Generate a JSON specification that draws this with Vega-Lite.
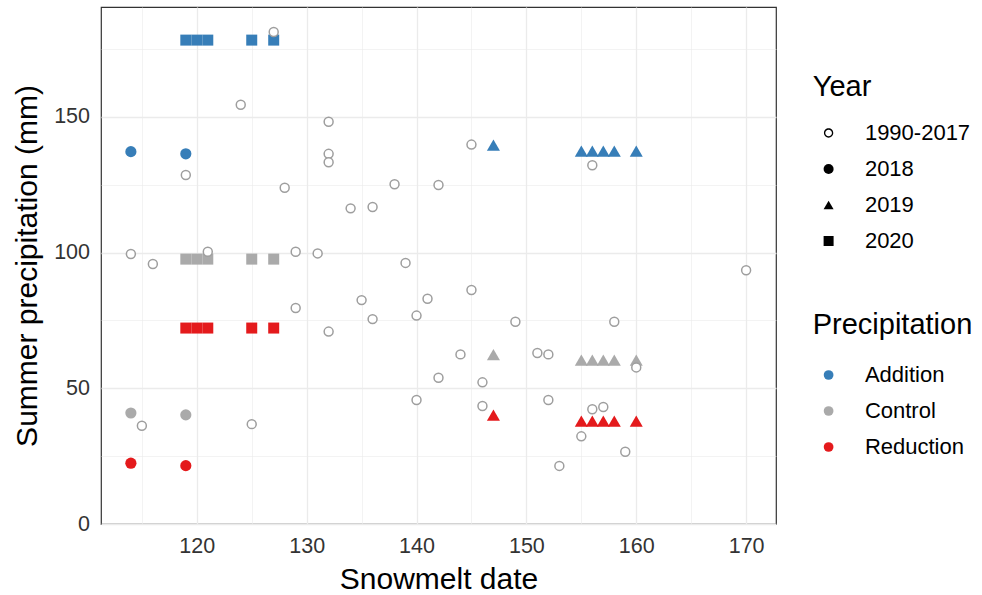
{
  "$schema": "https://vega.github.io/schema/vega-lite/v6.json",
  "width": 675,
  "height": 517,
  "autosize": {"type": "none"},
  "padding": {"left": 101, "top": 7, "right": 206, "bottom": 71},
  "background": "white",
  "config": {
    "font": "Liberation Sans",
    "view": {"stroke": "#333333", "strokeWidth": 1.2},
    "axis": {
      "domain": false,
      "ticks": false,
      "tickSize": 0,
      "gridColor": "#EBEBEB",
      "labelFont": "Liberation Sans",
      "labelFontSize": 21.5,
      "labelColor": "#333333",
      "labelPadding": 11.5,
      "labelOverlap": false,
      "labelFlush": false,
      "titleFont": "Liberation Sans",
      "titleFontSize": 30,
      "titleFontWeight": "normal",
      "titleColor": "#000000"
    },
    "legend": {
      "orient": "none",
      "titleFont": "Liberation Sans",
      "titleFontSize": 29,
      "titleFontWeight": "normal",
      "titleColor": "#000000",
      "labelFont": "Liberation Sans",
      "labelFontSize": 22,
      "labelColor": "#000000",
      "padding": 0,
      "rowPadding": 14,
      "symbolSize": 100,
      "symbolOffset": 4.9,
      "labelOffset": 25.3
    }
  },
  "data": {
    "values": [
      {"date": 114, "precip": 99.5, "year": "1990-2017"},
      {"date": 115, "precip": 36.2, "year": "1990-2017"},
      {"date": 116, "precip": 95.8, "year": "1990-2017"},
      {"date": 119, "precip": 128.6, "year": "1990-2017"},
      {"date": 121, "precip": 100.3, "year": "1990-2017"},
      {"date": 124, "precip": 154.5, "year": "1990-2017"},
      {"date": 125, "precip": 36.8, "year": "1990-2017"},
      {"date": 127, "precip": 181.3, "year": "1990-2017"},
      {"date": 128, "precip": 123.9, "year": "1990-2017"},
      {"date": 129, "precip": 100.3, "year": "1990-2017"},
      {"date": 129, "precip": 79.6, "year": "1990-2017"},
      {"date": 131, "precip": 99.7, "year": "1990-2017"},
      {"date": 132, "precip": 148.2, "year": "1990-2017"},
      {"date": 132, "precip": 136.4, "year": "1990-2017"},
      {"date": 132, "precip": 133.3, "year": "1990-2017"},
      {"date": 132, "precip": 70.9, "year": "1990-2017"},
      {"date": 134, "precip": 116.3, "year": "1990-2017"},
      {"date": 135, "precip": 82.5, "year": "1990-2017"},
      {"date": 136, "precip": 116.8, "year": "1990-2017"},
      {"date": 136, "precip": 75.5, "year": "1990-2017"},
      {"date": 138, "precip": 125.2, "year": "1990-2017"},
      {"date": 139, "precip": 96.2, "year": "1990-2017"},
      {"date": 140, "precip": 76.8, "year": "1990-2017"},
      {"date": 140, "precip": 45.7, "year": "1990-2017"},
      {"date": 141, "precip": 83.0, "year": "1990-2017"},
      {"date": 142, "precip": 124.9, "year": "1990-2017"},
      {"date": 142, "precip": 53.9, "year": "1990-2017"},
      {"date": 144, "precip": 62.5, "year": "1990-2017"},
      {"date": 145, "precip": 139.8, "year": "1990-2017"},
      {"date": 145, "precip": 86.2, "year": "1990-2017"},
      {"date": 146, "precip": 52.2, "year": "1990-2017"},
      {"date": 146, "precip": 43.5, "year": "1990-2017"},
      {"date": 149, "precip": 74.5, "year": "1990-2017"},
      {"date": 151, "precip": 63.0, "year": "1990-2017"},
      {"date": 152, "precip": 62.5, "year": "1990-2017"},
      {"date": 152, "precip": 45.7, "year": "1990-2017"},
      {"date": 153, "precip": 21.4, "year": "1990-2017"},
      {"date": 155, "precip": 32.3, "year": "1990-2017"},
      {"date": 156, "precip": 132.2, "year": "1990-2017"},
      {"date": 156, "precip": 42.3, "year": "1990-2017"},
      {"date": 157, "precip": 43.1, "year": "1990-2017"},
      {"date": 158, "precip": 74.5, "year": "1990-2017"},
      {"date": 159, "precip": 26.6, "year": "1990-2017"},
      {"date": 160, "precip": 57.7, "year": "1990-2017"},
      {"date": 170, "precip": 93.5, "year": "1990-2017"},
      {"date": 114, "precip": 137.2, "year": "2018", "treatment": "Addition"},
      {"date": 114, "precip": 40.9, "year": "2018", "treatment": "Control"},
      {"date": 114, "precip": 22.4, "year": "2018", "treatment": "Reduction"},
      {"date": 119, "precip": 136.4, "year": "2018", "treatment": "Addition"},
      {"date": 119, "precip": 40.2, "year": "2018", "treatment": "Control"},
      {"date": 119, "precip": 21.5, "year": "2018", "treatment": "Reduction"},
      {"date": 147, "precip": 139.6, "year": "2019", "treatment": "Addition"},
      {"date": 147, "precip": 62.4, "year": "2019", "treatment": "Control"},
      {"date": 147, "precip": 40.1, "year": "2019", "treatment": "Reduction"},
      {"date": 155, "precip": 137.4, "year": "2019", "treatment": "Addition"},
      {"date": 155, "precip": 60.4, "year": "2019", "treatment": "Control"},
      {"date": 155, "precip": 37.9, "year": "2019", "treatment": "Reduction"},
      {"date": 156, "precip": 137.4, "year": "2019", "treatment": "Addition"},
      {"date": 156, "precip": 60.4, "year": "2019", "treatment": "Control"},
      {"date": 156, "precip": 37.9, "year": "2019", "treatment": "Reduction"},
      {"date": 157, "precip": 137.4, "year": "2019", "treatment": "Addition"},
      {"date": 157, "precip": 60.4, "year": "2019", "treatment": "Control"},
      {"date": 157, "precip": 37.9, "year": "2019", "treatment": "Reduction"},
      {"date": 158, "precip": 137.4, "year": "2019", "treatment": "Addition"},
      {"date": 158, "precip": 60.4, "year": "2019", "treatment": "Control"},
      {"date": 158, "precip": 37.9, "year": "2019", "treatment": "Reduction"},
      {"date": 160, "precip": 137.4, "year": "2019", "treatment": "Addition"},
      {"date": 160, "precip": 60.4, "year": "2019", "treatment": "Control"},
      {"date": 160, "precip": 37.9, "year": "2019", "treatment": "Reduction"},
      {"date": 119, "precip": 178.3, "year": "2020", "treatment": "Addition"},
      {"date": 119, "precip": 97.6, "year": "2020", "treatment": "Control"},
      {"date": 119, "precip": 72.2, "year": "2020", "treatment": "Reduction"},
      {"date": 120, "precip": 178.3, "year": "2020", "treatment": "Addition"},
      {"date": 120, "precip": 97.6, "year": "2020", "treatment": "Control"},
      {"date": 120, "precip": 72.2, "year": "2020", "treatment": "Reduction"},
      {"date": 121, "precip": 178.3, "year": "2020", "treatment": "Addition"},
      {"date": 121, "precip": 97.6, "year": "2020", "treatment": "Control"},
      {"date": 121, "precip": 72.2, "year": "2020", "treatment": "Reduction"},
      {"date": 125, "precip": 178.3, "year": "2020", "treatment": "Addition"},
      {"date": 125, "precip": 97.6, "year": "2020", "treatment": "Control"},
      {"date": 125, "precip": 72.2, "year": "2020", "treatment": "Reduction"},
      {"date": 127, "precip": 178.3, "year": "2020", "treatment": "Addition"},
      {"date": 127, "precip": 97.6, "year": "2020", "treatment": "Control"},
      {"date": 127, "precip": 72.2, "year": "2020", "treatment": "Reduction"}
    ]
  },
  "encoding": {
    "x": {
      "field": "date",
      "type": "quantitative",
      "title": "Snowmelt date",
      "scale": {"domain": [111.28, 172.72], "nice": false, "zero": false},
      "axis": {
        "values": [115, 120, 125, 130, 135, 140, 145, 150, 155, 160, 165, 170],
        "labelExpr": "datum.value % 10 === 0 ? datum.label : ''",
        "gridWidth": {"condition": {"test": "datum.value % 10 === 0", "value": 1.3}, "value": 0.6},
        "titlePadding": 7
      }
    },
    "y": {
      "field": "precip",
      "type": "quantitative",
      "title": "Summer precipitation (mm)",
      "scale": {"domain": [0, 190.5], "nice": false, "zero": false},
      "axis": {
        "values": [0, 25, 50, 75, 100, 125, 150, 175],
        "labelExpr": "datum.value % 50 === 0 ? datum.label : ''",
        "gridWidth": {"condition": {"test": "datum.value % 50 === 0", "value": 1.3}, "value": 0.6},
        "titlePadding": 11
      }
    }
  },
  "layer": [
    {
      "transform": [{"filter": "datum.year === '2018'"}],
      "mark": {"type": "point", "filled": true, "opacity": 1, "strokeWidth": 0, "size": 125},
      "encoding": {
        "color": {
          "field": "treatment",
          "type": "nominal",
          "title": "Precipitation",
          "scale": {"domain": ["Addition", "Control", "Reduction"], "range": ["#377EB8", "#AAAAAA", "#E41A1C"]},
          "legend": {"legendX": 711.7, "legendY": 304, "titlePadding": 24, "symbolType": "circle", "symbolSize": 95, "symbolOpacity": 1, "symbolStrokeWidth": 0}
        },
        "shape": {
          "field": "year",
          "type": "nominal",
          "title": "Year",
          "scale": {"domain": ["1990-2017", "2018", "2019", "2020"], "range": ["M0,-0.93A0.93,0.93,0,1,1,0,0.93A0.93,0.93,0,1,1,0,-0.93ZM0,-0.67A0.67,0.67,0,1,0,0,0.67A0.67,0.67,0,1,0,0,-0.67Z", "circle", "triangle-up", "square"]},
          "legend": {"legendX": 711.7, "legendY": 66, "titlePadding": 20, "symbolFillColor": "#000000", "symbolStrokeWidth": 0, "symbolOpacity": 1}
        }
      }
    },
    {
      "transform": [{"filter": "datum.year === '2019'"}],
      "mark": {"type": "point", "filled": true, "opacity": 1, "strokeWidth": 0, "size": 170},
      "encoding": {
        "color": {
          "field": "treatment",
          "type": "nominal",
          "title": "Precipitation",
          "scale": {"domain": ["Addition", "Control", "Reduction"], "range": ["#377EB8", "#AAAAAA", "#E41A1C"]},
          "legend": {"legendX": 711.7, "legendY": 304, "titlePadding": 24, "symbolType": "circle", "symbolSize": 95, "symbolOpacity": 1, "symbolStrokeWidth": 0}
        },
        "shape": {
          "field": "year",
          "type": "nominal",
          "title": "Year",
          "scale": {"domain": ["1990-2017", "2018", "2019", "2020"], "range": ["M0,-0.93A0.93,0.93,0,1,1,0,0.93A0.93,0.93,0,1,1,0,-0.93ZM0,-0.67A0.67,0.67,0,1,0,0,0.67A0.67,0.67,0,1,0,0,-0.67Z", "circle", "triangle-up", "square"]},
          "legend": {"legendX": 711.7, "legendY": 66, "titlePadding": 20, "symbolFillColor": "#000000", "symbolStrokeWidth": 0, "symbolOpacity": 1}
        }
      }
    },
    {
      "transform": [{"filter": "datum.year === '2020'"}],
      "mark": {"type": "point", "filled": true, "opacity": 1, "strokeWidth": 0, "size": 121},
      "encoding": {
        "color": {
          "field": "treatment",
          "type": "nominal",
          "title": "Precipitation",
          "scale": {"domain": ["Addition", "Control", "Reduction"], "range": ["#377EB8", "#AAAAAA", "#E41A1C"]},
          "legend": {"legendX": 711.7, "legendY": 304, "titlePadding": 24, "symbolType": "circle", "symbolSize": 95, "symbolOpacity": 1, "symbolStrokeWidth": 0}
        },
        "shape": {
          "field": "year",
          "type": "nominal",
          "title": "Year",
          "scale": {"domain": ["1990-2017", "2018", "2019", "2020"], "range": ["M0,-0.93A0.93,0.93,0,1,1,0,0.93A0.93,0.93,0,1,1,0,-0.93ZM0,-0.67A0.67,0.67,0,1,0,0,0.67A0.67,0.67,0,1,0,0,-0.67Z", "circle", "triangle-up", "square"]},
          "legend": {"legendX": 711.7, "legendY": 66, "titlePadding": 20, "symbolFillColor": "#000000", "symbolStrokeWidth": 0, "symbolOpacity": 1}
        }
      }
    },
    {
      "transform": [{"filter": "datum.year === '1990-2017'"}],
      "mark": {"type": "point", "shape": "circle", "filled": false, "fill": "#FFFFFF", "stroke": "#9E9E9E", "strokeWidth": 1.5, "opacity": 1, "size": 80}
    }
  ]
}
